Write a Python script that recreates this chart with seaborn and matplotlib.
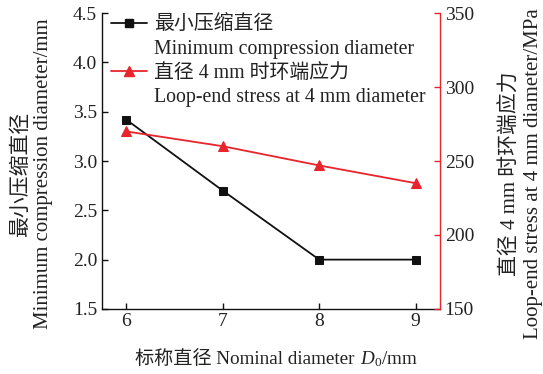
import matplotlib
matplotlib.use("Agg")
import matplotlib.pyplot as plt
from matplotlib.lines import Line2D
from matplotlib.offsetbox import TextArea, HPacker, AnchoredOffsetbox
import seaborn as sns
import pandas as pd

# Data
nominal_diameter = [6, 7, 8, 9]
min_compression_diameter = [3.42, 2.70, 2.00, 2.00]
loop_end_stress = [270, 260, 247, 235]

label_cn_1 = "最小压缩直径"
label_en_1 = "Minimum compression diameter"
label_cn_2 = "直径 4 mm 时环端应力"
label_en_2 = "Loop-end stress at 4 mm diameter"

df = pd.DataFrame({
    "D0": nominal_diameter,
    "dmin": min_compression_diameter,
    "stress": loop_end_stress,
})

sns.set_style("ticks")
FONTS = ["Liberation Serif", "Noto Sans CJK SC"]
plt.rcParams["font.family"] = FONTS
plt.rcParams["mathtext.fontset"] = "custom"
plt.rcParams["mathtext.rm"] = "Liberation Serif"
plt.rcParams["mathtext.it"] = "Liberation Serif:italic"
plt.rcParams["text.color"] = "#222222"
plt.rcParams["axes.labelcolor"] = "#222222"

RED = "#e8242c"
BLACK = "#111111"
TICK_FS = 14
LEG_FS = 14.3
LAB_FS = 15
XLAB_FS = 13.8

fig = plt.figure(figsize=(5.43, 3.74), dpi=100)
ax = fig.add_axes([0.188, 0.174, 0.622, 0.791])
ax2 = ax.twinx()

sns.lineplot(data=df, x="D0", y="dmin", ax=ax, color=BLACK, marker="s",
             markersize=6, markeredgecolor=BLACK, linewidth=1.3)
sns.lineplot(data=df, x="D0", y="stress", ax=ax2, color=RED, marker="^",
             markersize=7, markeredgecolor=RED, linewidth=1.3)

ax.set_xlim(5.75, 9.25)
ax.set_ylim(1.5, 4.5)
yt = [1.5, 2.0, 2.5, 3.0, 3.5, 4.0, 4.5]
ax.set_yticks(yt)
ax.set_yticklabels([f"{v:.1f}" for v in yt])
ax.set_xticks(nominal_diameter)
ax2.set_ylim(150, 350)
ax2.set_yticks([150, 200, 250, 300, 350])

ax.spines["top"].set_visible(False)
ax2.spines["top"].set_visible(False)
ax2.spines["left"].set_visible(False)
ax2.spines["bottom"].set_visible(False)
ax.spines["right"].set_visible(False)
ax2.spines["right"].set_color(RED)
for sp in ("left", "bottom"):
    ax.spines[sp].set_color(BLACK)
    ax.spines[sp].set_linewidth(1.0)
ax2.spines["right"].set_linewidth(1.0)

ax.tick_params(axis="both", direction="in", length=4, width=1.0,
               labelsize=TICK_FS, colors=BLACK, labelcolor="#222222")
ax.tick_params(axis="x", pad=3)
ax2.tick_params(axis="y", direction="in", length=4, width=1.0,
                labelsize=TICK_FS, colors=RED, labelcolor="#222222")

# x label: Chinese + Latin text followed by the italic symbol D0
ax.set_xlabel("")
xa = TextArea("标称直径 Nominal diameter",
              textprops=dict(fontsize=XLAB_FS, family=FONTS, color="#222222"))
xb = TextArea("$D_0$/mm", textprops=dict(fontsize=XLAB_FS, color="#222222"))
xbox = HPacker(children=[xa, xb], align="baseline", pad=0, sep=4)
anchored = AnchoredOffsetbox(loc="upper center", child=xbox, pad=0,
                             borderpad=0, frameon=False,
                             bbox_to_anchor=(0.515, -0.135),
                             bbox_transform=ax.transAxes)
ax.add_artist(anchored)

ax.set_ylabel("最小压缩直径\nMinimum compression diameter/mm",
              fontsize=LAB_FS, linespacing=1.2)
ax.yaxis.set_label_coords(-0.145, 0.456)
ax2.set_ylabel("直径 4 mm 时环端应力\nLoop-end stress at 4 mm diameter/MPa",
               fontsize=LAB_FS, rotation=90, linespacing=1.2)
ax2.yaxis.set_label_coords(1.18, 0.456)

blank = Line2D([], [], linestyle="none")
handles = [
    Line2D([], [], color=BLACK, marker="s", markersize=6, linewidth=1.3),
    blank,
    Line2D([], [], color=RED, marker="^", markersize=7, linewidth=1.3),
    blank,
]
labels = [label_cn_1, label_en_1, label_cn_2, label_en_2]
ax.legend(handles, labels, loc="upper left", bbox_to_anchor=(0.01, 1.012),
          frameon=False, fontsize=LEG_FS, handlelength=1.8, handletextpad=0.35,
          labelspacing=0.26, borderaxespad=0.1, borderpad=0.2)

fig.savefig("out.png", dpi=100)
